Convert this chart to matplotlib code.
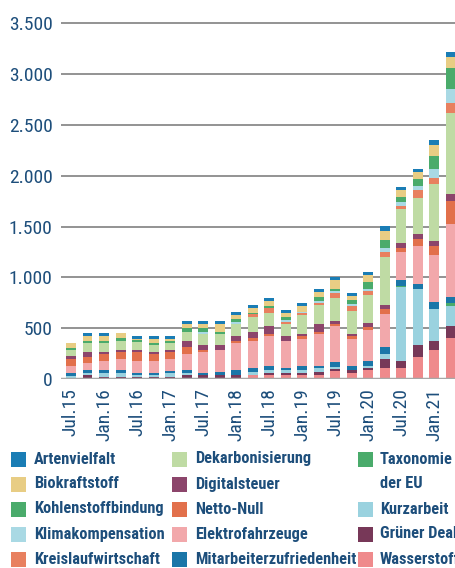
import matplotlib
matplotlib.use("Agg")
import matplotlib.pyplot as plt
import numpy as np
from matplotlib.patches import Rectangle

FONT = ['Liberation Sans Narrow', 'Roboto Condensed', 'DejaVu Sans']
plt.rcParams['font.family'] = FONT
TXT = '#1d4e7b'

# x-axis tick labels (every second quarter)
tick_labels = ['Jul.15', 'Jan.16', 'Jul.16', 'Jan.17', 'Jul.17', 'Jan.18',
               'Jul.18', 'Jan.19', 'Jul.19', 'Jan.20', 'Jul.20', 'Jan.21']
y_ticks = [0, 500, 1000, 1500, 2000, 2500, 3000, 3500]
y_tick_labels = ['0', '500', '1.000', '1.500', '2.000', '2.500', '3.000', '3.500']

# series (legend order) - quarterly values, Q3 2015 .. Q2 2021
artenvielfalt = [0, 30, 30, 0, 27, 30, 30, 30, 30, 30, 30, 30, 30, 30, 30, 30, 30, 30, 30, 50, 30, 30, 50, 50]
biokraftstoff = [50, 50, 50, 50, 10, 40, 20, 40, 40, 70, 40, 50, 50, 40, 60, 50, 90, 40, 70, 90, 70, 70, 110, 110]
kohlenstoffbindung = [20, 20, 20, 30, 20, 20, 20, 30, 30, 20, 30, 10, 20, 30, 0, 40, 20, 40, 70, 70, 50, 70, 120, 210]
klimakompensation = [0, 0, 0, 0, 0, 0, 0, 0, 20, 0, 20, 0, 0, 20, 10, 20, 20, 20, 20, 40, 40, 40, 90, 130]
kreislaufwirtschaft = [0, 0, 0, 0, 0, 0, 0, 0, 0, 0, 0, 30, 50, 20, 20, 20, 50, 50, 40, 50, 30, 70, 60, 100]
dekarbonisierung = [60, 90, 90, 90, 83, 70, 70, 90, 110, 110, 110, 140, 130, 110, 180, 190, 220, 225, 275, 470, 325, 355, 560, 800]
digitalsteuer = [33, 50, 23, 20, 17, 20, 20, 60, 50, 50, 50, 60, 70, 50, 20, 70, 30, 20, 40, 40, 50, 50, 50, 70]
netto_null = [66, 60, 67, 73, 90, 70, 70, 70, 20, 0, 20, 30, 20, 0, 30, 20, 20, 30, 30, 50, 40, 70, 90, 220]
elektrofahrzeuge = [63, 70, 90, 107, 120, 115, 110, 160, 210, 220, 270, 270, 300, 270, 270, 320, 355, 265, 305, 325, 275, 375, 460, 720]
mitarbeiterzufriedenheit = [30, 30, 30, 30, 20, 20, 23, 30, 20, 30, 50, 40, 40, 20, 40, 20, 50, 40, 50, 70, 60, 50, 70, 60]
taxonomie = [0, 0, 0, 0, 0, 0, 0, 0, 0, 0, 0, 0, 0, 0, 0, 0, 0, 0, 0, 0, 10, 0, 0, 30]
kurzarbeit = [20, 20, 40, 40, 20, 20, 40, 20, 0, 0, 0, 30, 30, 30, 30, 40, 20, 0, 20, 50, 730, 550, 315, 200]
gruener_deal = [13, 37, 17, 17, 17, 20, 20, 37, 37, 37, 37, 0, 20, 20, 20, 30, 20, 30, 20, 90, 70, 120, 90, 120]
wasserstoff = [0, 0, 0, 0, 0, 0, 0, 0, 0, 0, 0, 37, 37, 37, 37, 37, 80, 55, 85, 108, 108, 215, 285, 400]

series_names = ['Artenvielfalt', 'Biokraftstoff', 'Kohlenstoffbindung', 'Klimakompensation',
                'Kreislaufwirtschaft', 'Dekarbonisierung', 'Digitalsteuer', 'Netto-Null',
                'Elektrofahrzeuge', 'Mitarbeiterzufriedenheit', 'Taxonomie\nder EU',
                'Kurzarbeit', 'Grüner Deal', 'Wasserstoff']
series_values = [artenvielfalt, biokraftstoff, kohlenstoffbindung, klimakompensation,
                 kreislaufwirtschaft, dekarbonisierung, digitalsteuer, netto_null,
                 elektrofahrzeuge, mitarbeiterzufriedenheit, taxonomie, kurzarbeit,
                 gruener_deal, wasserstoff]
colors = ['#1a7db5', '#e8cd84', '#4aab6b', '#a9d9e4', '#e8805f', '#bfdba4', '#8c456b',
          '#e2704b', '#f2a8ab', '#1a76a8', '#4aab6b', '#9ad2df', '#773858', '#ef8a8c']

W, H = 456, 568
fig = plt.figure(figsize=(W / 100, H / 100), dpi=100)

ax_left, ax_right = 61, 456
y0_px, y3500_px = 379, 23.3
ppu = (y0_px - y3500_px) / 3500
ymax = 3600
ax = fig.add_axes([ax_left / W, (H - y0_px) / H, (ax_right - ax_left) / W, ymax * ppu / H])

n = len(artenvielfalt)
x = np.arange(n)
pitch = 16.52
ax.set_xlim((ax_left - 71) / pitch, (ax_right - 71) / pitch)
ax.set_ylim(0, ymax)

bottom = np.zeros(n)
for name, vals, col in reversed(list(zip(series_names, series_values, colors))):
    v = np.array(vals, dtype=float)
    ax.bar(x, v, bottom=bottom, width=0.6, color=col, linewidth=0, zorder=3)
    bottom += v

for s in ax.spines.values():
    s.set_visible(False)
ax.set_yticks(y_ticks)
ax.set_yticklabels(y_tick_labels)
ax.yaxis.grid(True, color='#8a8a8a', linewidth=1.3, zorder=0)
ax.axhline(0, color='#a8a8a8', linewidth=2.5, zorder=4)
ax.set_xticks(x[::2])
ax.set_xticklabels(tick_labels, rotation=90)
ax.tick_params(axis='both', length=0, labelsize=14, labelcolor=TXT)
ax.tick_params(axis='y', pad=6)
ax.tick_params(axis='x', pad=6.5)

# legend drawn manually (3 columns)
col_sq_x = [11, 172, 358]
col_tx_x = [34, 195, 380]
row_y = [459, 484, 509, 534, 559]
slots = [(0, 0), (0, 1), (0, 2), (0, 3), (0, 4),
         (1, 0), (1, 1), (1, 2), (1, 3), (1, 4),
         (2, 0), (2, 2), (2, 3), (2, 4)]
sq = 15
for (c, r), name, col in zip(slots, series_names, colors):
    yc = row_y[r]
    fig.add_artist(Rectangle((col_sq_x[c] / W, (H - yc - sq / 2) / H), sq / W, sq / H,
                             transform=fig.transFigure, color=col, linewidth=0))
    lines = name.split('\n')
    for k, line in enumerate(lines):
        fig.text(col_tx_x[c] / W, (H - row_y[r + k]) / H, line, ha='left', va='center',
                 fontsize=11.8, fontweight='bold', color=TXT)

fig.savefig('out.png', dpi=100)
